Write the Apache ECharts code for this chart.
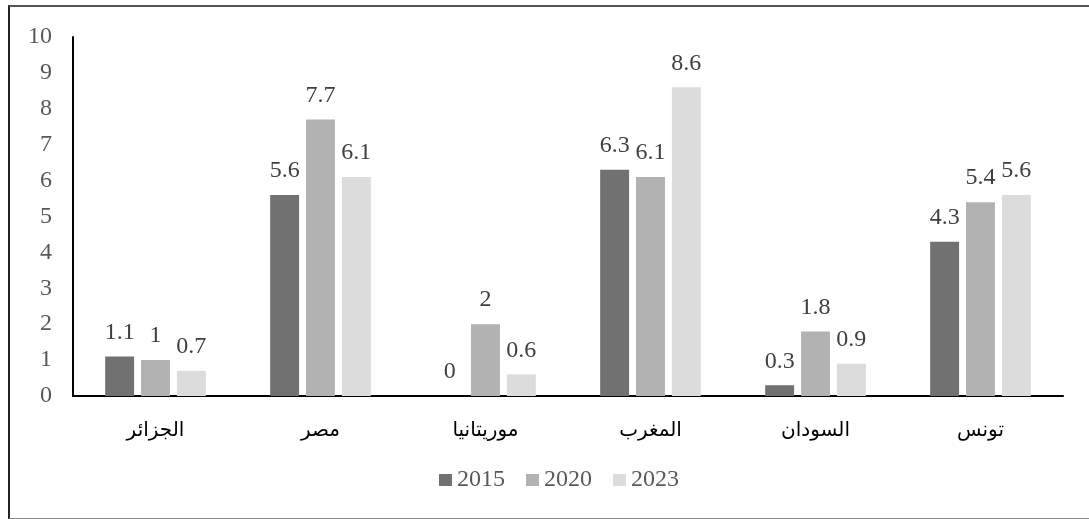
<!DOCTYPE html>
<html>
<head>
<meta charset="utf-8">
<script src="https://cdn.jsdelivr.net/npm/echarts@6/dist/echarts.min.js"></script>
<style>
  html, body { margin: 0; padding: 0; background: #fff; overflow: hidden; }
  #wrap { position: relative; width: 1089px; height: 519px; overflow: hidden; }
  #chart { width: 1089px; height: 519px; }
  #frame {
    position: absolute; left: 8px; top: 5px; width: 1100px; height: 511px;
    border-top: 2px solid #555; border-left: 2px solid #222;
    border-bottom: 1px solid #888;
    pointer-events: none;
  }
</style>
</head>
<body>
<div id="wrap">
  <div id="chart"></div>
  <div id="frame"></div>
</div>
<script>
// categories and values
const countries = ['الجزائر', 'مصر', 'موريتانيا', 'المغرب', 'السودان', 'تونس'];
const years = ['2015', '2020', '2023'];
const v2015 = [1.1, 5.6, 0, 6.3, 0.3, 4.3];
const v2020 = [1, 7.7, 2, 6.1, 1.8, 5.4];
const v2023 = [0.7, 6.1, 0.6, 8.6, 0.9, 5.6];
const colors = ['#717171', '#b2b2b2', '#dcdcdc'];

const serif = '"Liberation Serif", "DejaVu Serif", serif';

const chart = echarts.init(document.getElementById('chart'));

function bar(name, data, color) {
  return {
    name: name,
    type: 'bar',
    data: data,
    barGap: '24%',
    barCategoryGap: '39%',
    itemStyle: { color: color },
    label: {
      show: true,
      position: 'top',
      distance: 12,
      color: '#404040',
      fontFamily: serif,
      fontSize: 24
    }
  };
}

chart.setOption({
  animation: false,
  color: colors,
  grid: { left: 73, right: 26, top: 37, bottom: 123 },
  legend: {
    data: years,
    bottom: 22,
    left: 434,
    itemWidth: 13,
    itemHeight: 12,
    itemGap: 21,
    icon: 'rect',
    textStyle: { color: '#595959', fontFamily: serif, fontSize: 24 }
  },
  xAxis: {
    type: 'category',
    data: countries,
    axisLine: { lineStyle: { color: '#000', width: 2 } },
    axisTick: { show: false },
    axisLabel: {
      color: '#000',
      fontFamily: '"DejaVu Sans", sans-serif',
      fontSize: 20,
      margin: 25
    }
  },
  yAxis: {
    type: 'value',
    min: 0,
    max: 10,
    interval: 1,
    splitLine: { show: false },
    axisLine: { show: true, lineStyle: { color: '#000', width: 2 } },
    axisTick: { show: false },
    axisLabel: {
      color: '#595959',
      fontFamily: serif,
      fontSize: 24,
      margin: 21
    }
  },
  series: [
    bar(years[0], v2015, colors[0]),
    bar(years[1], v2020, colors[1]),
    bar(years[2], v2023, colors[2])
  ]
});
</script>
</body>
</html>
